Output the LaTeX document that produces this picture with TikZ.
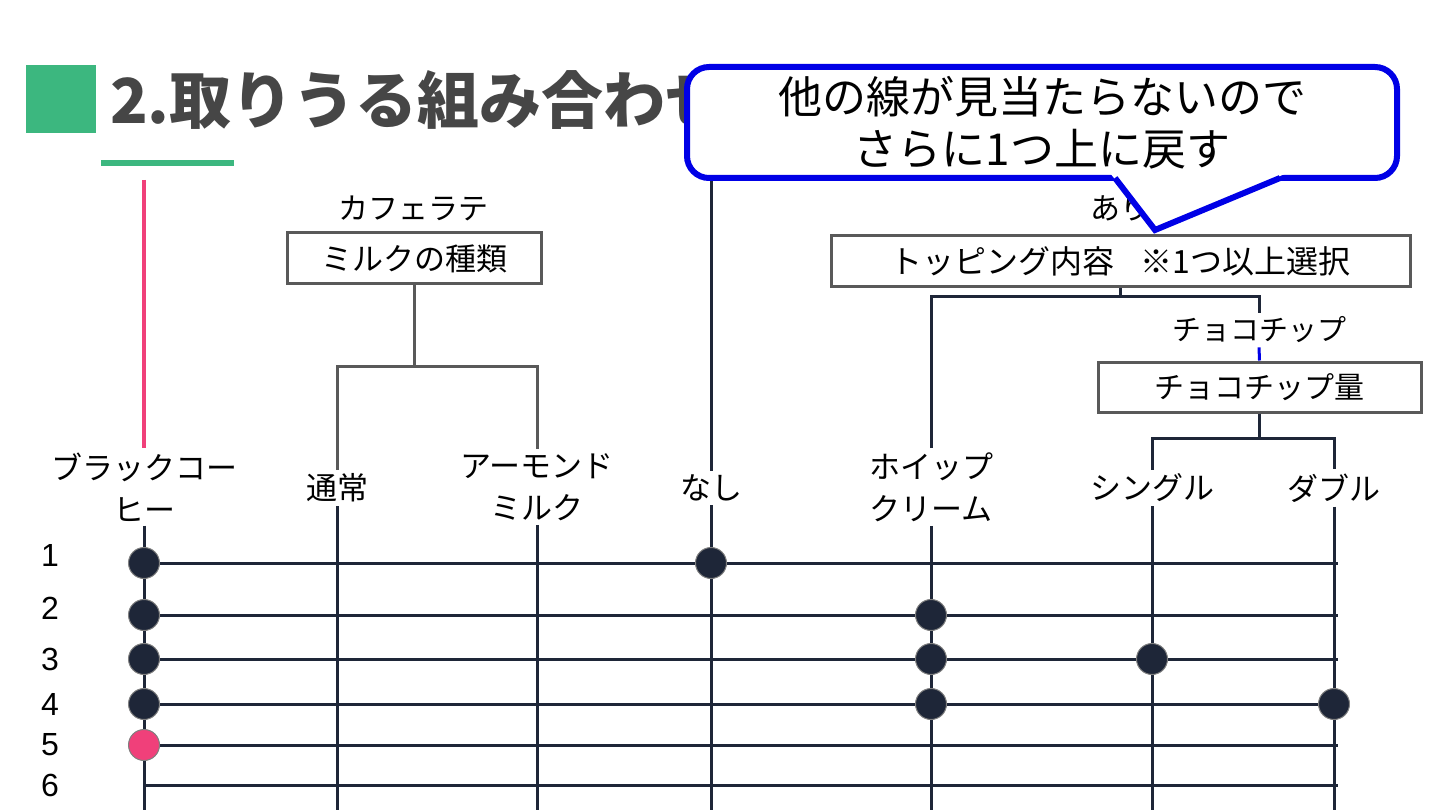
\documentclass[tikz,border=0pt]{standalone}
\usepackage{fontspec}
\setmainfont{Noto Sans CJK JP}
\newfontfamily\numfont{Liberation Sans}
\usetikzlibrary{positioning,calc}
\definecolor{navy}{HTML}{1E2638}
\definecolor{tgreen}{HTML}{3CB77F}
\definecolor{tpink}{HTML}{F0407A}
\definecolor{tgray}{HTML}{595959}
\definecolor{ttitle}{HTML}{464646}
\definecolor{tblue}{HTML}{0000E6}

\begin{document}
\begin{tikzpicture}[x=1pt, y=-1pt,
    lbl/.style={align=center, font=\fontsize{31}{42}\selectfont, inner sep=4pt},
    qbox/.style={draw=tgray, line width=3pt, fill=white, minimum height=51pt, font=\fontsize{31}{36}\selectfont, inner sep=0pt},
    tree/.style={draw=tgray, line width=3pt},
    grid/.style={draw=navy, line width=3pt},
    dot/.style={circle, fill=navy, draw=gray, line width=1pt, minimum size=31pt, inner sep=0pt},
    num/.style={font=\numfont\fontsize{32}{36}\selectfont}
]
    \useasboundingbox (0,0) rectangle (1440,810);

    % title
    \node[fill=tgreen, minimum width=70pt, minimum height=68pt, inner sep=0pt] (mark) at (61,99) {};
    \node[anchor=west, inner sep=0pt, text=ttitle, font=\bfseries\fontsize{62}{66}\selectfont] (title) at (110,100) {2.取りうる組み合わせ};
    \coordinate (ulA) at (101,163);
    \coordinate (ulB) at (234,163);
    \draw[tgreen, line width=6pt] (ulA) -- (ulB);

    % question boxes
    \node[lbl, font=\fontsize{30}{36}\selectfont] (latte) at (413,208) {カフェラテ};
    \node[qbox, minimum width=254pt] (milk) at (414,258.5) {ミルクの種類};
    \node[lbl, font=\fontsize{30}{36}\selectfont] (ari) at (1120,208) {あり};
    \node[qbox, minimum width=579pt, font=\fontsize{32}{36}\selectfont] (topping) at (1120.5,261.5) {トッピング内容\hspace{0.8em}※1つ以上選択};
    \node[lbl, font=\fontsize{29}{36}\selectfont] (chocolbl) at (1259,330) {チョコチップ};
    \node[qbox, minimum width=323pt, minimum height=50pt, font=\fontsize{30}{36}\selectfont] (chocoamt) at (1259.5,387) {チョコチップ量};

    % choices
    \node[lbl] (black) at (144,487) {ブラックコー\\ヒー};
    \node[lbl] (futsu) at (337,488) {通常};
    \node[lbl] (almond) at (537,487) {アーモンド\\ミルク};
    \node[lbl] (nashi) at (711,488) {なし};
    \node[lbl] (whip) at (931,487) {ホイップ\\クリーム};
    \node[lbl] (single) at (1152,488) {シングル};
    \node[lbl] (double) at (1334,488) {ダブル};

    % tree lines
    \coordinate (ptop) at (144,180);
    \draw[tpink, line width=4pt] (ptop) -- (black.north);
    \draw[tree] (milk.south) -- ++(0,81) coordinate (mj);
    \draw[tree] (futsu.north) |- (mj) -| (almond.north);
    \coordinate (ntop) at (711,178);
    \draw[grid] (ntop) -- (nashi.north);
    \draw[grid] (topping.south) -- ++(0,8) coordinate (tj);
    \draw[grid] (whip.north) |- (tj) -| (chocolbl.north);
    \draw[tblue, line width=3pt] (chocolbl.south) -- (chocoamt.north);
    \draw[grid] (chocoamt.south) -- ++(0,25) coordinate (cj);
    \draw[grid] (single.north) |- (cj) -| (double.north);

    % combination grid
    \foreach \c/\x in {black/144, futsu/337, almond/537, nashi/711, whip/931, single/1152, double/1334} {
        \coordinate (\c-b) at (\x,810);
        \draw[grid] (\c.south) -- (\c-b);
    }
    \foreach \i/\y/\ny in {1/563/555, 2/615/608, 3/659/659, 4/704/704, 5/745/745, 6/785/785} {
        \node[num] (n\i) at (50,\ny) {\i};
        \coordinate (rL\i) at (144,\y);
        \coordinate (rR\i) at (1338,\y);
        \draw[grid] (rL\i) -- (rR\i);
    }
    \node[dot] (d1a) at (rL1) {};
    \node[dot] (d1b) at (nashi.south |- rL1) {};
    \node[dot] (d2a) at (rL2) {};
    \node[dot] (d2b) at (whip.south |- rL2) {};
    \node[dot] (d3a) at (rL3) {};
    \node[dot] (d3b) at (whip.south |- rL3) {};
    \node[dot] (d3c) at (single.south |- rL3) {};
    \node[dot] (d4a) at (rL4) {};
    \node[dot] (d4b) at (whip.south |- rL4) {};
    \node[dot] (d4c) at (double.south |- rL4) {};
    \node[dot, fill=tpink] (d5a) at (rL5) {};

    % speech bubble
    \node[draw=tblue, line width=6pt, rounded corners=22pt, fill=white, minimum width=710pt, minimum height=111pt,
          align=center, inner sep=0pt, font=\fontsize{44}{52}\selectfont] (note) at (1042,122.5) {他の線が見当たらないので\\さらに1つ上に戻す};
    \coordinate (ptip) at (1155,230);
    \fill[white] (1110,173) -- (ptip) -- (1287,173) -- cycle;
    \draw[tblue, line width=6pt, line join=miter] (1115,178) -- (ptip) -- (1280,178);
\end{tikzpicture}
\end{document}
